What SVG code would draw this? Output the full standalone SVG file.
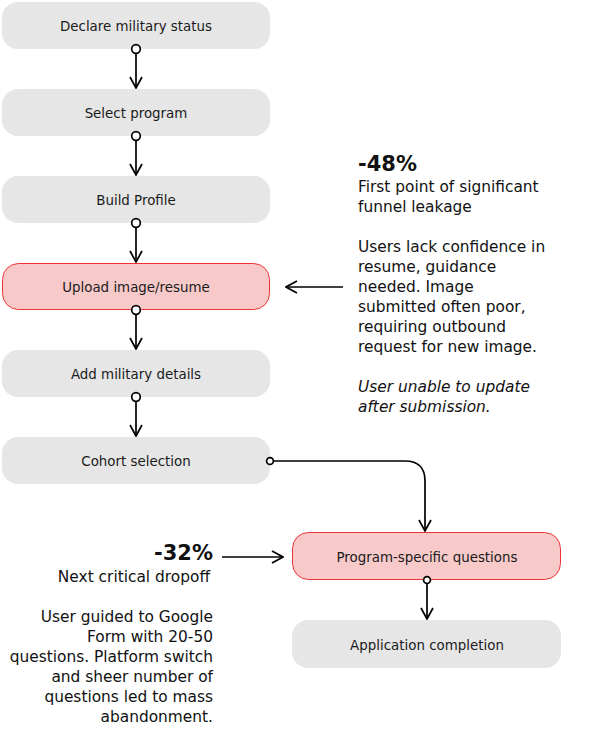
<svg xmlns="http://www.w3.org/2000/svg" width="600" height="732" viewBox="0 0 600 732">
<style>
.node rect{fill:#e6e6e6;}
.node.hot rect{fill:#f7c9c9;stroke:#ee3338;stroke-width:1;}
.node text{font-family:"DejaVu Sans","Noto Sans",sans-serif;font-size:13.4px;fill:#1a1a1a;text-anchor:middle;dominant-baseline:central;}
.conn path{fill:none;stroke:#000;stroke-width:1.7;}
.dot{fill:#fff;stroke:#000;stroke-width:1.7;}
.note{font-family:"DejaVu Sans","Noto Sans",sans-serif;font-size:15.4px;fill:#111;}
.big{font-weight:bold;font-size:21px;}
.it{font-style:italic;}
</style>
<defs>
<marker id="ah" viewBox="0 0 14 14" refX="13" refY="7" markerWidth="14" markerHeight="14" markerUnits="userSpaceOnUse" orient="auto">
<path d="M2,1 L13,7 L2,13" fill="none" stroke="#000" stroke-width="1.7"/>
</marker>
</defs>
<rect width="600" height="732" fill="#fff"/>
<g id="n1" class="node"><rect x="2" y="2" width="268" height="47" rx="16"/><text x="136" y="26">Declare military status</text></g>
<g id="n2" class="node"><rect x="2" y="89" width="268" height="47" rx="16"/><text x="136" y="113">Select program</text></g>
<g id="n3" class="node"><rect x="2" y="176" width="268" height="47" rx="16"/><text x="136" y="200">Build Profile</text></g>
<g id="n4" class="node hot"><rect x="2.5" y="263.5" width="267" height="46" rx="16"/><text x="136" y="287">Upload image/resume</text></g>
<g id="n5" class="node"><rect x="2" y="350" width="268" height="47" rx="16"/><text x="136" y="374">Add military details</text></g>
<g id="n6" class="node"><rect x="2" y="437" width="268" height="47" rx="16"/><text x="136" y="461">Cohort selection</text></g>
<g id="n7" class="node hot"><rect x="292.5" y="532.5" width="268" height="47" rx="16"/><text x="427" y="557">Program-specific questions</text></g>
<g id="n8" class="node"><rect x="292" y="620" width="269" height="48" rx="16"/><text x="427" y="645">Application completion</text></g>
<g id="connectors" class="conn">
<path d="M136,49 V88" marker-end="url(#ah)"/>
<path d="M136,136 V175" marker-end="url(#ah)"/>
<path d="M136,223 V262" marker-end="url(#ah)"/>
<path d="M136,310 V349" marker-end="url(#ah)"/>
<path d="M136,397 V436" marker-end="url(#ah)"/>
<path d="M270,461 H405 Q425,461 425,481 V531" marker-end="url(#ah)"/>
<path d="M427,580 V619" marker-end="url(#ah)"/>
<path d="M343,287 H286" marker-end="url(#ah)"/>
<path d="M222,557 H283" marker-end="url(#ah)"/>
<circle class="dot" cx="136" cy="49" r="4.3"/>
<circle class="dot" cx="136" cy="136" r="4.3"/>
<circle class="dot" cx="136" cy="223" r="4.3"/>
<circle class="dot" cx="136" cy="310" r="4.3"/>
<circle class="dot" cx="136" cy="397" r="4.3"/>
<circle class="dot" cx="270" cy="461" r="3.4"/>
<circle class="dot" cx="427" cy="580" r="3.4"/>
</g>
<g id="note-48">
<text class="note big" x="358" y="171">-48%</text>
<text class="note" x="358" y="192">First point of significant</text>
<text class="note" x="358" y="212">funnel leakage</text>
<text class="note" x="358" y="252">Users lack confidence in</text>
<text class="note" x="358" y="272">resume, guidance</text>
<text class="note" x="358" y="292">needed. Image</text>
<text class="note" x="358" y="312">submitted often poor,</text>
<text class="note" x="358" y="332">requiring outbound</text>
<text class="note" x="358" y="352">request for new image.</text>
<text class="note it" x="358" y="392">User unable to update</text>
<text class="note it" x="358" y="412">after submission.</text>
</g>
<g id="note-32" text-anchor="end">
<text class="note big" x="213" y="560">-32%</text>
<text class="note" x="210" y="582">Next critical dropoff</text>
<text class="note" x="213" y="622">User guided to Google</text>
<text class="note" x="213" y="642">Form with 20-50</text>
<text class="note" x="213" y="662">questions. Platform switch</text>
<text class="note" x="213" y="682">and sheer number of</text>
<text class="note" x="213" y="702">questions led to mass</text>
<text class="note" x="213" y="722">abandonment.</text>
</g>
</svg>
